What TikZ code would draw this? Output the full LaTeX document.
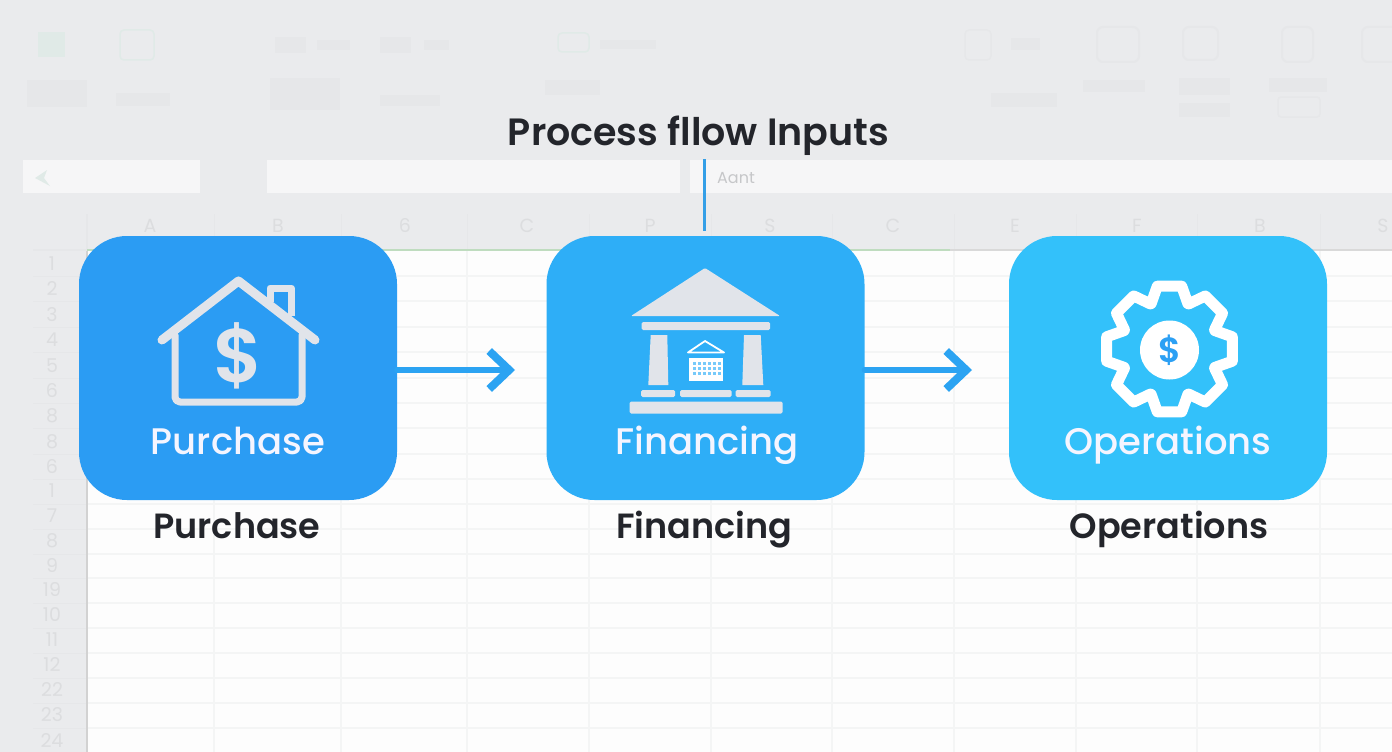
\documentclass[tikz,border=0pt]{standalone}
\usepackage{fontspec}
\setmainfont{Poppins}
\newfontfamily\capfont{Poppins SemiBold}
\newfontfamily\labelfont{Poppins Medium}
\usetikzlibrary{arrows.meta}
\definecolor{page}{HTML}{EAEBED}
\definecolor{sheet}{HTML}{FDFDFD}
\definecolor{rule}{HTML}{F4F5F5}
\definecolor{smudge}{HTML}{E6E7E9}
\definecolor{faint}{HTML}{DCDDDF}
\definecolor{minty}{HTML}{E0EAE7}
\definecolor{ink}{HTML}{23252B}
\definecolor{icon}{HTML}{E1E4EA}
\definecolor{blueA}{HTML}{2B9CF3}
\definecolor{blueB}{HTML}{2EAEF7}
\definecolor{blueC}{HTML}{33C1FA}
\definecolor{wire}{HTML}{2BA3F2}

\begin{document}
\begin{tikzpicture}[x=1pt,y=-1pt]
\tikzstyle{card} = [rounded corners=48pt, minimum width=318pt, minimum height=264pt, inner sep=0pt]
\tikzstyle{card label} = [anchor=base, inner sep=0pt, text=white!96!blue, font=\fontsize{37}{37}\labelfont]
\tikzstyle{caption} = [anchor=base, inner sep=0pt, text=ink, font=\fontsize{35}{35}\capfont]
\tikzstyle{flow} = [wire, line width=6pt, line cap=round, line join=round, -{Straight Barb[length=20pt,width=38pt,line width=8pt]}]
\tikzstyle{header} = [text=faint, font=\fontsize{19}{19}\selectfont, inner sep=0pt]
\tikzstyle{blur} = [smudge, draw=none, fill=smudge]
\tikzstyle{outline} = [draw=minty, line width=1.5pt, rounded corners=4pt]
\tikzstyle{house} = [draw=icon, line cap=round, line join=round]
\tikzstyle{stone} = [fill=icon, rounded corners=1.5pt]

\useasboundingbox (0,0) rectangle (1392,752);
\clip (0,0) rectangle (1392,752);

% spreadsheet behind the cards
\fill[page] (0,0) rectangle (1392,752);
\fill[sheet] (87,250) rectangle (1392,752);
\fill[white!55!page] (23,160) rectangle (200,193);
\fill[white!55!page] (267,160) rectangle (680,193);
\fill[white!55!page] (690,160) rectangle (1392,193);
\foreach \y in {276,301,327,352,378,403,428,454,479,504,529,554,578,603,628,653,678,703,728}
  {\draw[rule, line width=1.5pt] (87,\y) -- (1392,\y);
   \draw[smudge, line width=1pt] (33,\y) -- (87,\y);}
\foreach \x in {214,341,467,589,711,832,954,1076,1197,1320}
  {\draw[rule, line width=1.5pt] (\x,250) -- (\x,752);
   \draw[smudge, line width=1pt] (\x,214) -- (\x,250);}
\draw[gray!35, line width=2pt] (87,250) -- (87,752);
\draw[smudge, line width=1.5pt] (87,214) -- (87,250);
\draw[smudge, line width=1.5pt] (33,250) -- (87,250);
\draw[green!45!black!25!white, line width=1.5pt] (87,250) -- (950,250);
\draw[gray!30, line width=1.5pt] (950,250) -- (1392,250);

\foreach \x/\t in {150/A,278/B,405/6,527/C,650/P,770/S,893/C,1015/E,1137/F,1260/B,1383/S}
  \node[header] at (\x,226) {\t};
\foreach \y/\t in {264/1,289/2,315/3,340/4,366/5,391/6,416/8,442/8,467/6,491/1,516/7,541/8,566/9,590/19,615/10,640/11,665/12,690/22,715/23,740/24}
  \node[header] at (52,\y) {\t};
\node[text=faint!90!black, font=\fontsize{16}{16}\selectfont, inner sep=0pt] at (736,178) {Aant};

% ribbon
\fill[minty] (38,32) rectangle (65,57);
\draw[outline] (120,30) rectangle (154,60);
\fill[blur] (275,37) rectangle (306,53);
\fill[blur] (317,40) rectangle (350,50);
\fill[blur] (380,37) rectangle (411,53);
\fill[blur] (424,40) rectangle (449,50);
\draw[outline] (558,33) rectangle (589,52);
\fill[blur] (600,40) rectangle (656,49);
\fill[blur] (27,80) rectangle (87,107);
\fill[blur] (116,93) rectangle (170,106);
\fill[blur] (270,78) rectangle (340,110);
\fill[blur] (380,95) rectangle (440,106);
\fill[blur] (545,80) rectangle (600,95);
\draw[smudge, line width=1.5pt, rounded corners=4pt] (965,30) rectangle (991,60);
\fill[blur] (1011,38) rectangle (1040,50);
\draw[smudge, line width=2pt, rounded corners=6pt] (1097,27) rectangle (1139,62);
\draw[smudge, line width=2pt, rounded corners=6pt] (1183,27) rectangle (1218,60);
\draw[smudge, line width=2pt, rounded corners=6pt] (1282,27) rectangle (1313,62);
\draw[smudge, line width=2pt, rounded corners=6pt] (1362,27) rectangle (1400,62);
\fill[blur] (991,93) rectangle (1057,107);
\fill[blur] (1083,80) rectangle (1145,92);
\fill[blur] (1179,78) rectangle (1230,95);
\fill[blur] (1179,103) rectangle (1230,117);
\fill[blur] (1269,78) rectangle (1327,92);
\draw[smudge, line width=1.5pt, rounded corners=3pt] (1278,97) rectangle (1320,117);
\fill[minty] (35,178) -- (47,170) -- (44,178) -- (50,186) -- cycle;

% the three cards
\node[card, fill=blueA] (Purchase) at (238,368) {};
\node[card, fill=blueB] (Financing) at (705.5,368) {};
\node[card, fill=blueC] (Operations) at (1168,368) {};

\node[card label] (PurchaseLabel) at (238,454) {Purchase};
\node[card label] (FinancingLabel) at (707,454) {Financing};
\node[card label] (OperationsLabel) at (1168,454) {Operations};

\node[caption] (PurchaseCaption) at (237,538) {Purchase};
\node[caption] (FinancingCaption) at (704,538) {Financing};
\node[caption] (OperationsCaption) at (1169,538) {Operations};
\node[caption, font=\fontsize{38}{38}\capfont] (Title) at (698.5,145) {Process fllow Inputs};

\coordinate (TitleFoot) at (704.5,159);
\coordinate (PurchaseEnd) at (515,370);
\coordinate (FinancingEnd) at (972,370);

\draw[wire!90!gray, line width=3pt, shorten >=5pt] (TitleFoot) -- (Financing.north -| TitleFoot);
\draw[flow] (Purchase.east |- PurchaseEnd) -- (PurchaseEnd);
\draw[flow] (Financing.east |- FinancingEnd) -- (FinancingEnd);

% house
\draw[house, line width=9pt] (162,340) -- (238.5,281) -- (315,340);
\draw[house, line width=7pt, rounded corners=5pt] (175,335) -- (175,402) -- (302,402) -- (302,335);
\draw[house, line width=7pt, line cap=butt] (270,302) -- (270,288) -- (291.5,288) -- (291.5,316);
\node[text=icon, font=\fontsize{76}{76}\capfont, inner sep=0pt] (HouseSign) at (238.5,356) {\$};

% bank
\fill[icon, rounded corners=1pt] (705,268) -- (780,316) -- (631,316) -- cycle;
\fill[stone] (641.5,322) rectangle (770,330);
\fill[icon] (650.7,335) -- (667.3,335) -- (668.3,385) -- (648.3,385) -- cycle;
\fill[icon] (744,335) -- (760.7,335) -- (763.3,385) -- (742.3,385) -- cycle;
\fill[stone] (641,390) rectangle (675,397);
\fill[stone] (680,390) rectangle (731.5,397);
\fill[stone] (735.5,390) rectangle (770.5,397);
\fill[stone] (629.5,401.5) rectangle (782.5,413.5);
\draw[white, line width=1.8pt, line join=round] (705,341) -- (724,352.5) -- (688,352.5) -- cycle;
\fill[white] (689,358) rectangle (722.5,381);
\foreach \x in {693,698,703,708,713,718}
  \foreach \y in {362,367,372}
    \fill[blueB!65!white] (\x,\y) rectangle +(2.6,3);

% gear
\draw[white, line width=11pt, line join=round, shift={(1169.5,349)}]
  (-22:49) \foreach \a in {0,45,...,315} {-- (\a-22:49) -- (\a-11:64) -- (\a+11:64) -- (\a+22:49)} -- cycle;
\node[circle, fill=white, minimum size=59pt, inner sep=0pt, text=blueA!80!blueB, font=\fontsize{35}{35}\capfont] (GearHub) at (1169.5,350) {\$};
\end{tikzpicture}
\end{document}
